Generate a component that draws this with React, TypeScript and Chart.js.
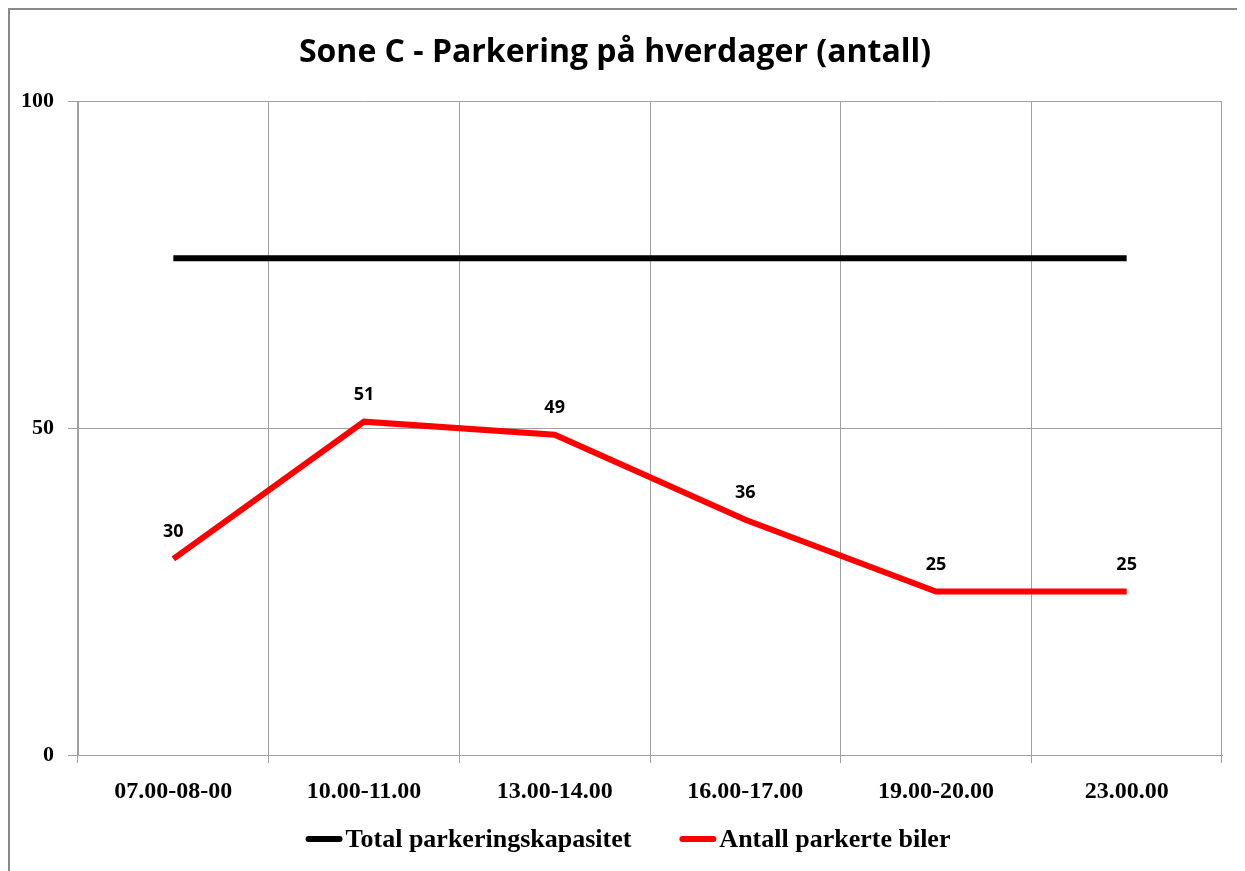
import React, { useEffect, useRef } from "react";
import { Chart, registerables } from "chart.js";

Chart.register(...registerables);

const categories = ["07.00-08-00", "10.00-11.00", "13.00-14.00", "16.00-17.00", "19.00-20.00", "23.00.00"];
const capacity = [76, 76, 76, 76, 76, 76];
const parked = [30, 51, 49, 36, 25, 25];
const yTicks = [0, 50, 100];
const seriesNames = ["Total parkeringskapasitet", "Antall parkerte biler"];
const titleText = "Sone C - Parkering på hverdager (antall)";

const SERIF = "'Liberation Serif', serif";
const SANS = "'Open Sans', Lato, sans-serif";

const dataLabelPlugin = {
  id: "dataLabels",
  afterDatasetsDraw(chart: any) {
    const ctx = chart.ctx;
    const meta = chart.getDatasetMeta(1);
    const values = chart.data.datasets[1].data;
    ctx.save();
    ctx.font = `bold 18px ${SANS}`;
    ctx.fillStyle = "#000";
    ctx.textAlign = "center";
    ctx.textBaseline = "middle";
    meta.data.forEach((pt: any, i: number) => {
      ctx.fillText(String(values[i]), pt.x, pt.y - 27);
    });
    ctx.restore();
  },
};

const lineLegendPlugin = {
  id: "lineLegend",
  afterDraw(chart: any) {
    const ctx = chart.ctx;
    const ds = chart.data.datasets;
    const markerW = 37;
    const markerGap = 3;
    const itemGap = 48;
    const y = 831;
    ctx.save();
    ctx.font = `bold 26px ${SERIF}`;
    ctx.textBaseline = "middle";
    ctx.textAlign = "left";
    const widths = ds.map((d: any) => markerW + markerGap + ctx.measureText(d.label).width);
    const total = widths.reduce((a: number, b: number) => a + b, 0) + itemGap * (ds.length - 1);
    let x = 620 - total / 2;
    ds.forEach((d: any, i: number) => {
      ctx.strokeStyle = d.borderColor;
      ctx.lineWidth = 6;
      ctx.lineCap = "round";
      ctx.beginPath();
      ctx.moveTo(x + 3, y);
      ctx.lineTo(x + markerW - 3, y);
      ctx.stroke();
      ctx.fillStyle = "#000";
      ctx.fillText(d.label, x + markerW + markerGap, y + 1);
      x += widths[i] + itemGap;
    });
    ctx.restore();
  },
};

export default function App() {
  const ref = useRef<HTMLCanvasElement | null>(null);
  useEffect(() => {
    if (!ref.current) return;
    const chart = new Chart(ref.current, {
      type: "line",
      data: {
        labels: categories,
        datasets: [
          {
            label: seriesNames[0],
            data: capacity,
            borderColor: "#000000",
            backgroundColor: "#000000",
            borderWidth: 6,
            pointRadius: 0,
            tension: 0,
          },
          {
            label: seriesNames[1],
            data: parked,
            borderColor: "#ff0000",
            backgroundColor: "#ff0000",
            borderWidth: 6,
            pointRadius: 0,
            tension: 0,
          },
        ],
      },
      options: {
        animation: false,
        responsive: false,
        maintainAspectRatio: false,
        layout: { padding: { left: 0, right: 23, top: 0, bottom: 56 } },
        plugins: {
          title: {
            display: true,
            text: titleText,
            color: "#000",
            font: { family: SANS, size: 32, weight: "bold", lineHeight: 1.2 },
            padding: { top: 26, bottom: 29 },
          },
          legend: { display: false },
          tooltip: { enabled: false },
        },
        scales: {
          x: {
            offset: true,
            grid: { offset: true, color: "#a0a0a0", tickLength: 8, drawTicks: true },
            border: { color: "#a0a0a0" },
            ticks: {
              color: "#000",
              font: { family: SERIF, size: 24, weight: "bold" },
              padding: 14,
              maxRotation: 0,
            },
            afterFit: (s: any) => {
              s.height = 60;
            },
          },
          y: {
            min: 0,
            max: 100,
            afterBuildTicks: (s: any) => {
              s.ticks = yTicks.map((v) => ({ value: v }));
            },
            grid: { color: "#a0a0a0", tickLength: 10 },
            border: { color: "#a0a0a0" },
            ticks: {
              color: "#000",
              font: { family: SERIF, size: 22, weight: "bold" },
              padding: 14,
            },
            afterFit: (s: any) => {
              s.width = 70;
            },
          },
        },
      },
      plugins: [dataLabelPlugin, lineLegendPlugin],
    });
    return () => chart.destroy();
  }, []);
  return (
    <div style={{ position: "relative", width: 1237, height: 863 }}>
      <canvas
        ref={ref}
        width={1237}
        height={863}
        style={{ position: "absolute", left: 0, top: 0, width: 1237, height: 863 }}
      />
      <div
        style={{
          position: "absolute",
          left: 0,
          top: 0,
          width: 1250,
          height: 880,
          boxSizing: "border-box",
          border: "2px solid #8a8a8a",
          pointerEvents: "none",
        }}
      />
    </div>
  );
}
